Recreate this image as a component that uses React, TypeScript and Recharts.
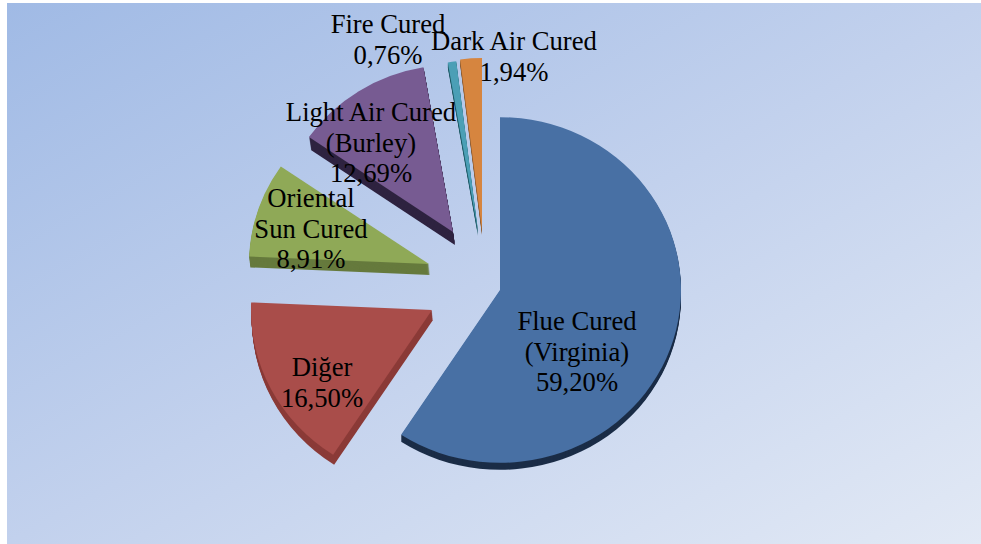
import { PieChart, Pie, Sector } from 'recharts';

const categories = ['Flue Cured (Virginia)', 'Diğer', 'Oriental Sun Cured', 'Light Air Cured (Burley)', 'Fire Cured', 'Dark Air Cured'];
const shares = [59.2, 16.5, 8.91, 12.69, 0.76, 1.94];
const labelLines = [
  ['Flue Cured', '(Virginia)'],
  ['Diğer'],
  ['Oriental', 'Sun Cured'],
  ['Light Air Cured', '(Burley)'],
  ['Fire Cured'],
  ['Dark Air Cured'],
];

const faceColors = ['#4870a4', '#a94d4a', '#8fa957', '#775b92', '#4b9fb6', '#d6853f'];
const sideColors = ['#1b2d47', '#8b3b38', '#667a3d', '#2e2340', '#1f5a66', '#8a5a30'];

// how far each slice is pulled out of the pie, and its apparent size
const slices = [
  { dx: 0, dy: 2, r: 181, depth: 7, lean: 0 },
  { dx: -68, dy: 22, r: 181, depth: 10, lean: 0.1 },
  { dx: -71, dy: -24, r: 180, depth: 11, lean: 0.1 },
  { dx: -47, dy: -56, r: 175, depth: 13, lean: 0.15 },
  { dx: -22, dy: -57, r: 179, depth: 5, lean: 0 },
  { dx: -18, dy: -58, r: 180, depth: 5, lean: 0 },
];

// centre x and first baseline of each label
const labelSpots = [
  { x: 577, y: 330 },
  { x: 322, y: 376 },
  { x: 311, y: 207 },
  { x: 371, y: 121 },
  { x: 388, y: 33 },
  { x: 514, y: 50 },
];

const CX = 500;
const CY = 288;
const SQUASH = 0.955;
const LINE_HEIGHT = 30.5;

const data = categories.map((name, i) => ({ name, value: shares[i] }));

const formatShare = (v: number) => v.toFixed(2).replace('.', ',') + '%';

function ExplodedSlice(props: any) {
  const { index, cx, cy, startAngle, endAngle } = props;
  const s = slices[index];
  const squash = `translate(${cx} ${cy}) scale(1 ${SQUASH}) translate(${-cx} ${-cy})`;
  // stacked copies make the side wall under the face
  const wall = Array.from({ length: s.depth }, (_, i) => s.depth - i);
  return (
    <g>
      {wall.map((d) => (
        <g key={d} transform={`translate(${s.dx + d * s.lean} ${s.dy + d}) ${squash}`}>
          <Sector cx={cx} cy={cy} innerRadius={0} outerRadius={s.r} startAngle={startAngle} endAngle={endAngle} fill={sideColors[index]} stroke="none" />
        </g>
      ))}
      <g transform={`translate(${s.dx} ${s.dy}) ${squash}`}>
        <Sector cx={cx} cy={cy} innerRadius={0} outerRadius={s.r} startAngle={startAngle} endAngle={endAngle} fill={faceColors[index]} stroke="none" />
      </g>
    </g>
  );
}

function SliceLabel(props: any) {
  const { index } = props;
  const spot = labelSpots[index];
  const lines = [...labelLines[index], formatShare(shares[index])];
  return (
    <text textAnchor="middle" fontFamily="'Liberation Serif'" fontSize={26.67} fill="#000">
      {lines.map((line, i) => (
        <tspan key={i} x={spot.x} y={spot.y + i * LINE_HEIGHT}>{line}</tspan>
      ))}
    </text>
  );
}

export default function App() {
  return (
    <div style={{ position: 'absolute', left: 0, top: 0, width: 981, height: 544, background: '#fff' }}>
      <div
        style={{
          position: 'absolute',
          left: 7,
          top: 3,
          width: 974,
          height: 541,
          background: 'linear-gradient(to bottom right, #a0bae5, #c2d1ed 50%, #e2e9f5)',
        }}
      />
      <div style={{ position: 'absolute', left: 0, top: 0 }}>
        <PieChart width={981} height={544} margin={{ top: 0, right: 0, bottom: 0, left: 0 }}>
          <Pie
            data={data}
            dataKey="value"
            nameKey="name"
            cx={CX}
            cy={CY}
            outerRadius={181}
            startAngle={90}
            endAngle={-270}
            stroke="none"
            shape={ExplodedSlice}
            label={SliceLabel}
            labelLine={false}
            isAnimationActive={false}
          />
        </PieChart>
      </div>
    </div>
  );
}
